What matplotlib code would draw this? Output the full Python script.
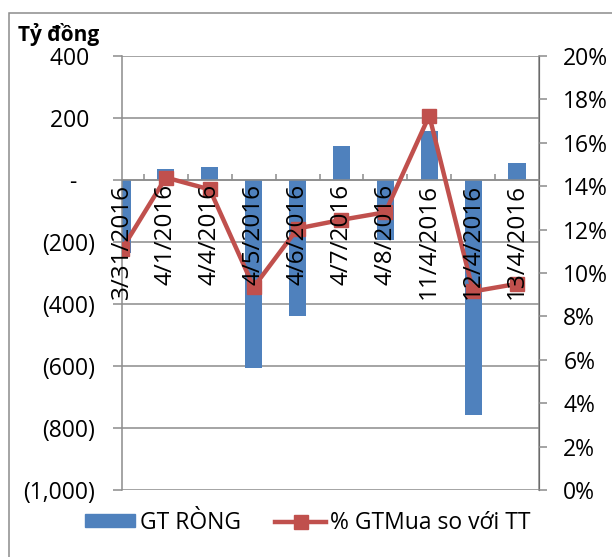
import matplotlib
matplotlib.use('Agg')
import matplotlib.pyplot as plt
from matplotlib.patches import Rectangle
from matplotlib.lines import Line2D
from matplotlib.patches import Patch

plt.rcParams['font.family'] = ['Open Sans', 'DejaVu Sans']

dates = ['3/31/2016', '4/1/2016', '4/4/2016', '4/5/2016', '4/6/2016',
         '4/7/2016', '4/8/2016', '11/4/2016', '12/4/2016', '13/4/2016']
gt_rong = [-236, 35, 41, -606, -439, 111, -195, 158, -759, 55]
pct_mua = [11.1, 14.4, 13.85, 9.35, 12.05, 12.45, 12.8, 17.25, 9.15, 9.5]

left_ticks = [-1000, -800, -600, -400, -200, 0, 200, 400]
left_labels = ['(1,000)', '(800)', '(600)', '(400)', '(200)', '-   ', '200 ', '400 ']
right_ticks = list(range(0, 21, 2))

blue = '#4F81BD'
red = '#C0504D'
grid = '#8C8C8C'
fs = 16.5

fig = plt.figure(figsize=(6.12, 5.57), dpi=100)
ax = fig.add_axes([122 / 612, 1 - 490 / 557, (539 - 122) / 612, (490 - 56) / 557])
ax2 = ax.twinx()

x = list(range(len(dates)))
ax.bar(x, gt_rong, width=0.39, color=blue, zorder=2)
ax.set_xlim(0, 9.5)
ax.set_ylim(-1000, 400)
ax.set_yticks(left_ticks)
ax.set_yticklabels(left_labels)
ax.yaxis.grid(True, color=grid, linewidth=1.1, zorder=0)
ax.set_axisbelow(True)
ax.tick_params(axis='y', length=6.5, width=1.1, color=grid, pad=13, labelsize=fs)

# category axis at zero
ax.spines['bottom'].set_position(('data', 0))
ax.spines['bottom'].set_color(grid)
ax.spines['bottom'].set_linewidth(1.1)
ax.set_xticks([])
ax.set_xticks([i + 0.5 for i in x[:-1]], minor=True)
ax.tick_params(axis='x', which='minor', direction='in', length=4.5, width=1.1, color=grid)
ax.spines['top'].set_visible(False)
ax.spines['left'].set_color(grid)
ax.spines['left'].set_linewidth(1.1)

ax2.plot(x, pct_mua, color=red, linewidth=3.2, marker='s', markersize=10,
         markerfacecolor=red, markeredgecolor=red, zorder=3)
ax2.set_ylim(0, 20)
ax2.set_yticks(right_ticks)
ax2.set_yticklabels([f'{t}%' for t in right_ticks])
ax2.tick_params(axis='y', length=6, width=1.1, color=grid, pad=11.5, labelsize=fs)
for s in ['top', 'left', 'bottom']:
    ax2.spines[s].set_visible(False)
ax2.spines['right'].set_color(grid)
ax2.spines['right'].set_linewidth(1.1)

# category labels drawn above the line
for i, lab in enumerate(dates):
    ax2.annotate(lab, xy=(i, 0), xycoords=(ax2.transData, ax.transData),
                 xytext=(0, -3), textcoords='offset points',
                 rotation=90, ha='center', va='top', fontsize=17.5, zorder=5)

fig.text(18 / 612, 1 - 35 / 557, 'Tỷ đồng', fontsize=15, fontweight='bold',
         ha='left', va='center')

handles = [Patch(facecolor=blue, edgecolor=blue),
           Line2D([0], [0], color=red, linewidth=3.2, marker='s', markersize=10)]
fig.legend(handles, ['GT RÒNG', '% GTMua so với TT'], loc='center',
           bbox_to_anchor=(308 / 612, 1 - 523 / 557), ncol=2, frameon=False,
           fontsize=fs, handlelength=2.2, handletextpad=0.2, columnspacing=1.5,
           handleheight=0.5)

fig.patches.append(Rectangle((9 / 612, -0.1), 1.2, 1 - 13 / 557 + 0.1,
                             transform=fig.transFigure, fill=False,
                             edgecolor=grid, linewidth=1.1))

fig.savefig('out.png', dpi=100)
